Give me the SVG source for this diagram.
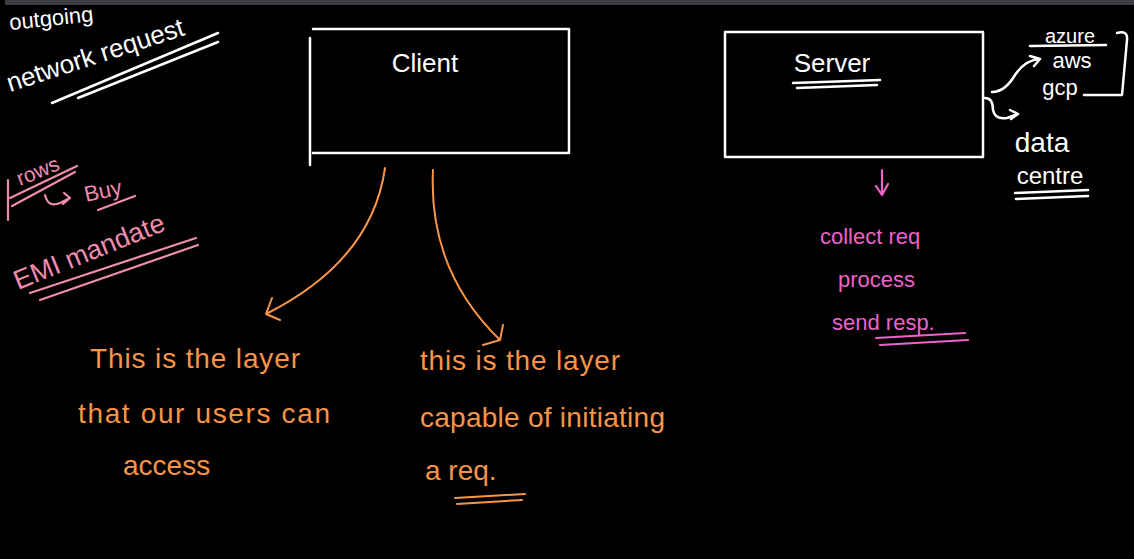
<svg xmlns="http://www.w3.org/2000/svg" width="1134" height="559" viewBox="0 0 1134 559">
<defs>
<style>
.w{stroke:#ffffff;fill:none;stroke-width:2.5;stroke-linecap:round;stroke-linejoin:round}
.o{stroke:#f79446;fill:none;stroke-width:2;stroke-linecap:round;stroke-linejoin:round}
.p{stroke:#f08cae;fill:none;stroke-width:2.2;stroke-linecap:round;stroke-linejoin:round}
.m{stroke:#ee62cc;fill:none;stroke-width:2.2;stroke-linecap:round;stroke-linejoin:round}
.tw{fill:#ffffff;font-family:"Liberation Sans",Arial,sans-serif}
.to{fill:#f79446;font-family:"Liberation Sans",Arial,sans-serif;font-size:28px}
.tp{fill:#f08cae;font-family:"Liberation Sans",Arial,sans-serif}
.tm{fill:#ee62cc;font-family:"Liberation Sans",Arial,sans-serif;font-size:22px}
</style>
</defs>
<rect x="0" y="0" width="1134" height="559" fill="#000000"/>

<g id="notes-left">
<text class="tw" x="10" y="30" font-size="22" transform="rotate(-6 10 30)">outgoing</text>
<text class="tw" x="10" y="92" font-size="26" transform="rotate(-18 10 92)">network request</text>
<path class="w" d="M52 103 L218 33 M78 98 L218 42"/>
<text class="tp" x="20" y="186" font-size="21" transform="rotate(-22 20 186)">rows</text>
<path class="p" d="M8 180 L8 220 M10 198 L77 166 M12 206 L75 172"/>
<path class="p" d="M45 195 Q48 208 60 203 L70 198 M64 193 L70 198 L63 204"/>
<text class="tp" x="86" y="202" font-size="22" transform="rotate(-12 86 202)">Buy</text>
<path class="p" d="M98 210 L135 196"/>
<text class="tp" x="18" y="290" font-size="27" transform="rotate(-22 18 290)">EMI mandate</text>
<path class="p" d="M30 293 L196 238 M40 300 L198 245"/>
</g>

<g id="client">
<path class="w" d="M313 29 L569 29 L569 153 L313 153 M310 38 L310 165"/>
<text class="tw" x="425" y="72" font-size="26" text-anchor="middle">Client</text>
</g>

<g id="server">
<rect class="w" x="725" y="32" width="258" height="125"/>
<text class="tw" x="832" y="72" font-size="26" text-anchor="middle">Server</text>
<path class="w" d="M793 83 L880 80 M797 88 L877 85"/>
</g>

<g id="cloud">
<text class="tw" x="1070" y="43" font-size="20" text-anchor="middle">azure</text>
<path class="w" d="M1030 46 L1106 45"/>
<text class="tw" x="1072" y="68" font-size="22" text-anchor="middle">aws</text>
<text class="tw" x="1060" y="95" font-size="22" text-anchor="middle">gcp</text>
<path class="w" d="M1117 33 Q1128 30 1127 40 L1122 95 L1084 95"/>
<text class="tw" x="1042" y="152" font-size="28" text-anchor="middle">data</text>
<text class="tw" x="1050" y="184" font-size="24" text-anchor="middle">centre</text>
<path class="w" d="M1015 193 L1088 190 M1016 199 L1088 196"/>
</g>

<g id="server-steps">
<text class="tm" x="820" y="244">collect req</text>
<text class="tm" x="838" y="287">process</text>
<text class="tm" x="832" y="330">send resp.</text>
<path class="m" d="M876 338 L965 333 M880 345 L968 340"/>
</g>

<g id="client-notes">
<text class="to" x="90" y="368" textLength="210">This is the layer</text>
<text class="to" x="78" y="423" textLength="252">that our users can</text>
<text class="to" x="123" y="475">access</text>
<text class="to" x="420" y="370" textLength="200">this is the layer</text>
<text class="to" x="420" y="427" textLength="245">capable of initiating</text>
<text class="to" x="425" y="480">a req.</text>
<path class="o" d="M455 498 L525 494 M457 504 L522 500"/>
</g>

<g id="connectors">
<path class="o" d="M385 168 Q372 260 268 313 M272 298 L266 314 L280 320"/>
<path class="o" d="M433 170 Q428 270 500 340 M503 325 L500 340 L483 345"/>
<path class="m" d="M882 170 L882 195 M876 186 L882 195 L888 184"/>
<path class="w" d="M992 92 Q1005 92 1015 75 Q1025 60 1040 59 M1030 56 L1040 59 L1034 66"/>
<path class="w" d="M985 98 Q993 98 993 110 Q995 120 1007 118 L1018 114 M1010 110 L1018 114 L1011 119"/>
</g>

<rect x="5" y="0" width="1129" height="5" fill="#3f3b42"/>
</svg>
